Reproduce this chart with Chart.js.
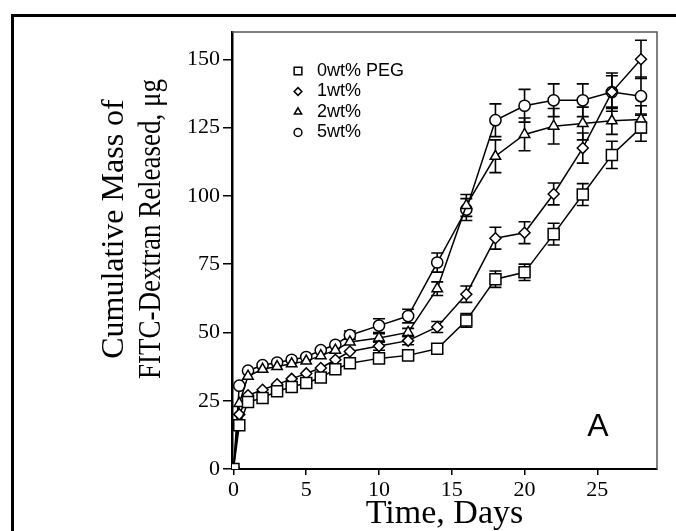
<!DOCTYPE html>
<html>
<head>
<meta charset="utf-8">
<title>FITC-Dextran release</title>
<script src="https://cdn.jsdelivr.net/npm/chart.js@4.4.0/dist/chart.umd.min.js"></script>
<style>
  html, body { margin: 0; padding: 0; background: #fff; }
  #wrap { position: relative; width: 676px; height: 531px; overflow: hidden; }
  #frame { position: absolute; left: 11px; top: 14px; width: 700px; height: 600px;
           border-left: 3px solid #000; border-top: 3px solid #000; }
  canvas { position: absolute; left: 0; top: 0; }
</style>
</head>
<body>
<div id="wrap">
  <div id="frame"></div>
  <canvas id="releaseChart" width="676" height="531"></canvas>
</div>
<script>
// ---- data ----
var days   = [0, 0.4, 1, 2, 3, 4, 5, 6, 7, 8, 10, 12, 14, 16, 18, 20, 22, 24, 26, 28];

var peg0   = [0, 16, 24.5, 26, 28.5, 30, 31.5, 33.5, 36.5, 38.7, 40.5, 41.6, 44, 54.4, 69.5, 72, 86, 100.5, 115, 125];
var peg1   = [0, 20, 27, 29, 31, 33, 35, 37, 40, 43, 45, 47, 52, 64, 84.5, 86.5, 100.7, 117.5, 138, 150];
var peg2   = [0, 24, 34, 36.5, 37.5, 38.5, 39.5, 41.5, 43.5, 46.5, 48, 50, 66, 96.5, 114.5, 122.5, 125.5, 126.5, 127.5, 128];
var peg5   = [0, 30.5, 36, 38, 39, 40, 41, 43.5, 45.5, 49, 52.5, 56, 75.6, 95, 127.7, 133, 135, 135, 138, 136.5];

var err0   = [0, 0, 0, 0, 0, 0, 0, 0, 0, 0, 0, 0, 1.5, 2.5, 3, 3, 4, 4, 5, 5];
var err1   = [0, 0, 0, 0, 0, 0, 0, 0, 0, 0, 1.5, 1.5, 2, 3, 4, 4, 4, 5.5, 7, 7];
var err2   = [0, 0, 0, 0, 0, 0, 0, 0, 0, 0, 1.5, 1.5, 2.5, 4, 6, 6, 6.5, 6, 5, 5];
var err5   = [0, 0, 0, 0, 0, 0, 0, 0, 0, 1.5, 2.5, 2.5, 3.5, 4, 6, 6, 6, 6, 6, 7];

var seriesLabels = ["0wt% PEG", "1wt%", "2wt%", "5wt%"];
var xTicks = [0, 5, 10, 15, 20, 25];
var yTicks = [0, 25, 50, 75, 100, 125, 150];
var xTitle = "Time, Days";
var yTitle = ["Cumulative Mass of", "FITC-Dextran Released, \u03bcg"];
var panelLetter = "A";

var serif = '"Liberation Serif", "Times New Roman", serif';
var sans  = '"Liberation Sans", Arial, sans-serif';

function makeSeries(label, values, errors, style, radius) {
    return {
        label: label,
        data: days.map(function (d, i) { return { x: d, y: values[i] }; }),
        errors: errors,
        showLine: true,
        borderColor: '#000',
        borderWidth: 1.5,
        tension: 0,
        pointStyle: style,
        pointRadius: radius,
        pointBorderWidth: 1.5,
        pointBorderColor: '#000',
        pointBackgroundColor: '#fff'
    };
}

var markerStyles = [['rect', 7.8], ['rectRot', 5.5], ['triangle', 6], ['circle', 5.6]];

// error bars, drawn under the markers
var errorBars = {
    id: 'errorBars',
    beforeDatasetsDraw: function (chart) {
        var ctx = chart.ctx, xs = chart.scales.x, ys = chart.scales.y;
        ctx.save();
        ctx.strokeStyle = '#000';
        ctx.lineWidth = 1.6;
        chart.data.datasets.forEach(function (ds) {
            ds.data.forEach(function (p, i) {
                var e = ds.errors[i];
                if (!e) return;
                var px = xs.getPixelForValue(p.x);
                var top = ys.getPixelForValue(p.y + e);
                var bot = ys.getPixelForValue(p.y - e);
                ctx.beginPath();
                ctx.moveTo(px, top); ctx.lineTo(px, bot);
                ctx.moveTo(px - 6, top); ctx.lineTo(px + 6, top);
                ctx.moveTo(px - 6, bot); ctx.lineTo(px + 6, bot);
                ctx.stroke();
            });
        });
        // top and right edges of the plot box
        var a = chart.chartArea;
        ctx.strokeStyle = '#555';
        ctx.lineWidth = 1.5;
        ctx.beginPath();
        ctx.moveTo(a.left, a.top);
        ctx.lineTo(a.right, a.top);
        ctx.lineTo(a.right, a.bottom);
        ctx.stroke();
        ctx.restore();
    }
};

// legend, panel letter, y axis title
var panelText = {
    id: 'panelText',
    afterDraw: function (chart) {
        var ctx = chart.ctx;
        ctx.save();
        // legend
        ctx.font = '18px ' + sans;
        ctx.textBaseline = 'middle';
        ctx.textAlign = 'left';
        seriesLabels.forEach(function (lab, i) {
            var y = 71 + i * 20.5;
            ctx.fillStyle = '#fff';
            ctx.strokeStyle = '#000';
            ctx.lineWidth = 1.5;
            Chart.helpers.drawPoint(ctx, {
                pointStyle: markerStyles[i][0],
                radius: markerStyles[i][1] * 0.7,
                rotation: 0,
                borderWidth: 1.5
            }, 298, y);
            ctx.fillStyle = '#000';
            ctx.fillText(lab, 317, y);
        });
        // panel letter
        ctx.font = '32px ' + sans;
        ctx.textAlign = 'center';
        ctx.fillText(panelLetter, 598, 427);
        // y title, two rotated lines
        ctx.font = '32px ' + serif;
        ctx.textBaseline = 'alphabetic';
        ctx.translate(0, 229);
        ctx.rotate(-Math.PI / 2);
        ctx.fillText(yTitle[0], 0, 123, 262);
        ctx.fillText(yTitle[1], 0, 160, 300);
        ctx.restore();
    }
};

var canvas = document.getElementById("releaseChart");

var releaseChart = new Chart(canvas, {
    type: 'scatter',
    data: {
        datasets: [
            makeSeries(seriesLabels[0], peg0, err0, markerStyles[0][0], markerStyles[0][1]),
            makeSeries(seriesLabels[1], peg1, err1, markerStyles[1][0], markerStyles[1][1]),
            makeSeries(seriesLabels[2], peg2, err2, markerStyles[2][0], markerStyles[2][1]),
            makeSeries(seriesLabels[3], peg5, err5, markerStyles[3][0], markerStyles[3][1])
        ]
    },
    options: {
        responsive: false,
        animation: false,
        layout: { padding: { left: 0, right: 19, top: 32, bottom: 0 } },
        plugins: {
            legend: { display: false },
            tooltip: { enabled: false }
        },
        scales: {
            x: {
                type: 'linear',
                min: -0.1,
                max: 29.1,
                afterBuildTicks: function (s) { s.ticks = xTicks.map(function (v) { return { value: v }; }); },
                afterFit: function (s) { s.height = 62; },
                grid: { drawOnChartArea: false, drawTicks: true, tickLength: 6, color: '#000', lineWidth: 1.5 },
                border: { display: true, color: '#000', width: 2 },
                ticks: { color: '#000', font: { family: serif, size: 22 }, padding: 2, maxRotation: 0 },
                title: { display: true, text: xTitle, color: '#000',
                         font: { family: serif, size: 34, lineHeight: 1 }, padding: { top: 0, bottom: 0 } }
            },
            y: {
                type: 'linear',
                min: 0,
                max: 160,
                afterBuildTicks: function (s) { s.ticks = yTicks.map(function (v) { return { value: v }; }); },
                afterFit: function (s) { s.width = 232; },
                grid: { drawOnChartArea: false, drawTicks: true, tickLength: 9, color: '#000', lineWidth: 1.5 },
                border: { display: true, color: '#000', width: 2.5 },
                ticks: { color: '#000', font: { family: serif, size: 22 }, padding: 3 }
            }
        }
    },
    plugins: [errorBars, panelText]
});
</script>
</body>
</html>
